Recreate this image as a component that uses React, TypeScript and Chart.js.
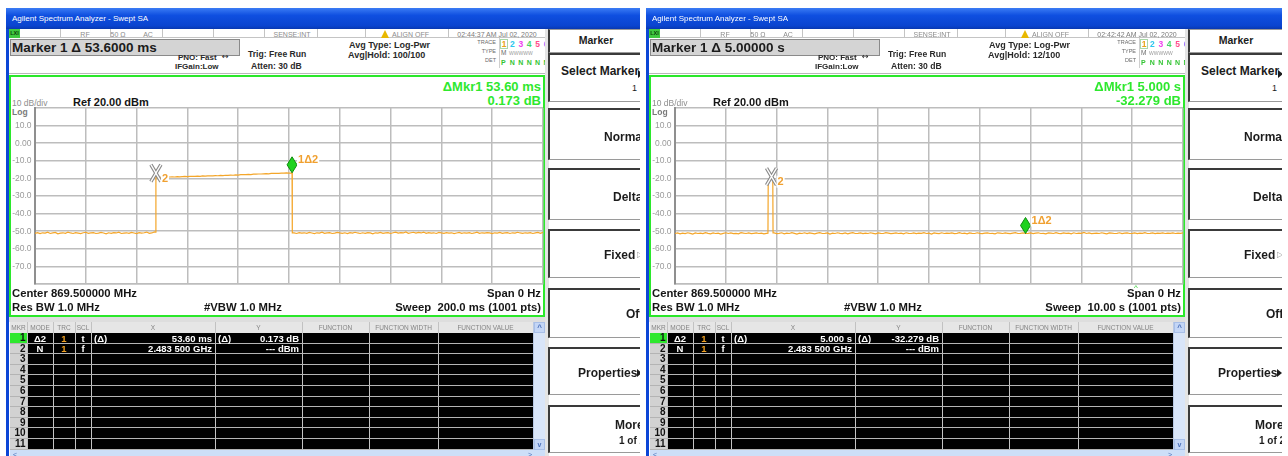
import React, { useEffect, useRef } from "react";
import { Chart, registerables } from "chart.js";

Chart.register(...registerables);

const FONT = '"Liberation Sans", Arial, sans-serif';
const TRACE_COLOR = "#f4a62a";

type Pt = [number, number];

// ---------- Sweep 1: 200 ms span, one burst captured ----------
const leftMkr2: Pt = [47.6, -17.0]; // reference marker (ms, dBm)
const leftMkr1: Pt = [101.2, -16.827]; // delta marker (ms, dBm)

// noise floor, 0 .. 47 ms
const leftNoiseHead = [
  -51.2, -50.8, -51.4, -50.9, -51.1, -50.6, -51.3, -51.0, -50.7, -51.5,
  -51.1, -50.9, -51.2, -50.5, -51.0, -51.3, -50.8, -51.1, -51.4, -50.9,
  -50.6, -51.2, -51.0, -50.8, -51.3, -51.1, -50.7, -51.0, -51.5, -50.9,
  -51.2, -50.8, -51.0, -50.6, -51.3, -51.1, -50.9, -51.2, -50.7, -51.0,
  -51.4, -50.8, -51.1, -50.9, -50.5, -51.2, -51.0, -50.4,
];
const leftRiseEdge: Pt[] = [[47.4, -50.6], leftMkr2];
// burst level, 48 .. 101 ms
const leftBurst = [
  -19.3, -19.4, -19.3, -19.2, -19.3, -19.2, -19.1, -19.2, -19.0, -19.1,
  -19.0, -18.9, -19.0, -18.8, -18.9, -18.8, -18.7, -18.8, -18.6, -18.7,
  -18.6, -18.5, -18.6, -18.4, -18.5, -18.3, -18.4, -18.2, -18.3, -18.1,
  -18.2, -18.0, -18.1, -17.9, -17.9, -17.8, -17.7, -17.8, -17.6, -17.6,
  -17.5, -17.5, -17.4, -17.3, -17.4, -17.2, -17.2, -17.1, -17.1, -17.0,
  -17.0, -16.9, -16.95, -16.9,
];
const leftFallEdge: Pt[] = [leftMkr1, [101.3, -51.0]];
// noise floor, 102 .. 200 ms
const leftNoiseTail = [
  -51.0, -51.3, -50.8, -51.1, -50.9, -51.2, -50.7, -51.0, -51.4, -50.9,
  -51.1, -50.6, -51.2, -51.0, -50.8, -51.3, -51.1, -50.7, -51.0, -51.2,
  -50.9, -51.4, -50.8, -51.1, -50.6, -51.0, -51.3, -50.9, -51.2, -50.8,
  -51.0, -51.5, -50.9, -51.1, -50.7, -51.2, -51.0, -50.8, -51.3, -50.9,
  -50.5, -51.1, -50.8, -51.0, -50.4, -51.2, -50.9, -50.6, -51.1, -50.7,
  -51.0, -50.5, -51.2, -50.8, -51.1, -50.9, -51.3, -50.7, -51.0, -51.2,
  -50.8, -51.1, -50.9, -51.4, -51.0, -50.7, -51.2, -50.9, -51.1, -50.8,
  -51.3, -51.0, -50.6, -51.2, -50.9, -51.1, -50.8, -51.0, -51.4, -50.9,
  -51.1, -50.7, -51.2, -51.0, -50.8, -51.3, -50.9, -51.1, -50.6, -51.0,
  -51.2, -50.9, -51.1, -50.8, -51.3, -51.0, -50.7, -51.2, -50.6,
];

// ---------- Sweep 2: 10 s span, bursts repeat every 5 s ----------
const rightMkr2: Pt = [1.9, -19.021]; // reference marker (s, dBm)
const rightMkr1: Pt = [6.9, -51.3]; // delta marker (s, dBm)

// noise floor, 0 .. 1.80 s
const rightNoiseHead = [
  -51.3, -51.0, -51.5, -51.1, -51.4, -50.9, -51.2, -51.6, -51.0, -51.3,
  -51.1, -51.4, -50.8, -51.2, -51.5, -51.0, -51.3, -51.1, -51.6, -51.2,
  -50.9, -51.3, -51.0, -51.4, -51.2, -51.5, -50.8, -51.1, -51.3, -51.0,
  -51.4, -51.2, -51.0, -51.3, -51.1, -51.5, -51.2,
];
const rightPulse: Pt[] = [
  [1.83, -51.1], [1.835, -21.4], [1.87, -20.3], rightMkr2, [1.925, -20.6], [1.93, -51.0],
];
// noise floor, 1.95 .. 6.85 s
const rightNoiseMid = [
  -51.0, -51.4, -51.2, -50.9, -51.5, -51.1, -51.3, -50.8, -51.2, -51.6,
  -51.1, -51.3, -50.9, -51.4, -51.0, -51.2, -51.5, -51.1, -50.8, -51.3,
  -51.2, -51.0, -51.6, -51.1, -51.3, -50.9, -51.2, -51.4, -51.0, -51.5,
  -51.1, -50.8, -51.3, -51.2, -51.0, -51.4, -51.1, -51.3, -50.9, -51.2,
  -51.5, -51.0, -51.2, -51.3, -50.8, -51.1, -51.4, -51.2, -51.0, -51.3,
  -51.1, -51.5, -50.9, -51.2, -51.3, -51.0, -51.4, -51.1, -51.2, -50.8,
  -51.3, -51.1, -51.6, -51.0, -51.2, -51.4, -50.9, -51.3, -51.1, -51.2,
  -51.0, -51.4, -51.2, -50.8, -51.3, -51.1, -51.5, -51.0, -51.2, -51.3,
  -50.9, -51.2, -51.4, -51.1, -51.0, -51.3, -51.2, -51.5, -50.9, -51.1,
  -51.3, -51.0, -51.2, -51.4, -51.1, -50.8, -51.3, -51.2, -51.0,
];
// noise floor, 6.95 .. 10.00 s
const rightNoiseTail = [
  -51.2, -51.0, -51.4, -51.1, -50.9, -51.3, -51.2, -51.5, -51.0, -51.1,
  -51.3, -50.8, -51.2, -51.4, -51.0, -51.2, -51.1, -51.5, -50.9, -51.3,
  -51.1, -51.2, -50.7, -51.3, -51.0, -51.4, -51.2, -51.1, -51.3, -50.9,
  -51.2, -51.5, -51.0, -51.1, -51.3, -51.2, -50.9, -51.4, -51.1, -51.0,
  -51.3, -51.2, -51.0, -51.4, -51.1, -51.2, -50.8, -51.3, -51.2, -51.0,
  -51.4, -51.1, -51.2, -51.0, -51.3, -51.1, -51.2, -51.0, -51.3, -51.1,
  -51.2, -51.0,
];

// amplitude axis: Ref 20 dBm, 10 dB/div
const refLevel = 20;
const bottomLevel = -80;
const dbPerDiv = 10;

// sweep samples at an even interval between two times
function seg(vals: number[], t0: number, t1: number) {
  return vals.map((v, i) => ({ x: t0 + ((t1 - t0) * i) / (vals.length - 1), y: v }));
}
const pts = (a: Pt[]) => a.map(([x, y]) => ({ x, y }));

const leftTrace = [
  ...seg(leftNoiseHead, 0, 47),
  ...pts(leftRiseEdge),
  ...seg(leftBurst, 48, 101),
  ...pts(leftFallEdge),
  ...seg(leftNoiseTail, 102, 200),
];
const rightTrace = [
  ...seg(rightNoiseHead, 0, 1.8),
  ...pts(rightPulse),
  ...seg(rightNoiseMid, 1.95, 6.85),
  ...pts([rightMkr1]),
  ...seg(rightNoiseTail, 6.95, 10),
];

const screens = [
  {
    left: 0, width: 640, clock: "02:44:37 AM Jul 02, 2020", avgHold: "100/100",
    sweep: 200, unit: "ms", titleDigits: 4, mkrDigits: 2, sweepLabel: "200.0 ms",
    trace: leftTrace, m1: leftMkr1, m2: leftMkr2, caret: false,
  },
  {
    left: 640, width: 642, clock: "02:42:42 AM Jul 02, 2020", avgHold: "12/100",
    sweep: 10, unit: "s", titleDigits: 5, mkrDigits: 3, sweepLabel: "10.00 s",
    trace: rightTrace, m1: rightMkr1, m2: rightMkr2, caret: true,
  },
];

// ---------- marker glyphs drawn on the graticule ----------
function tag(ctx: CanvasRenderingContext2D, s: string, x: number, y: number) {
  ctx.font = `bold 11px ${FONT}`;
  ctx.textBaseline = "middle";
  ctx.textAlign = "left";
  const w = ctx.measureText(s).width;
  ctx.fillStyle = "#ffffff";
  ctx.fillRect(x - 1, y - 6, w + 2, 12);
  ctx.fillStyle = "#f0a030";
  ctx.fillText(s, x, y + 0.5);
}

const markerPlugin = {
  id: "mkr",
  afterDatasetsDraw(chart: any, _args: any, opts: any) {
    const { ctx, scales } = chart;
    const xs = scales.x;
    const ys = scales.y;
    const r = { x: xs.getPixelForValue(opts.ref[0]), y: ys.getPixelForValue(opts.ref[1]) };
    const d = { x: xs.getPixelForValue(opts.delta[0]), y: ys.getPixelForValue(opts.delta[1]) };
    ctx.save();
    // hollow X on the reference marker
    const hw = 5;
    const hh = 8.5;
    const strokes: [number, string][] = [[3.6, "#8a8a8a"], [1.3, "#ffffff"]];
    for (const [w, c] of strokes) {
      ctx.lineWidth = w;
      ctx.strokeStyle = c;
      ctx.beginPath();
      ctx.moveTo(r.x - hw, r.y - hh);
      ctx.lineTo(r.x + hw, r.y + hh);
      ctx.moveTo(r.x + hw, r.y - hh);
      ctx.lineTo(r.x - hw, r.y + hh);
      ctx.stroke();
    }
    tag(ctx, "2", r.x + 6, r.y + 5);
    // diamond sitting on the delta marker
    ctx.beginPath();
    ctx.moveTo(d.x, d.y);
    ctx.lineTo(d.x + 5, d.y - 8);
    ctx.lineTo(d.x, d.y - 16);
    ctx.lineTo(d.x - 5, d.y - 8);
    ctx.closePath();
    ctx.fillStyle = "#1fd21f";
    ctx.fill();
    ctx.lineWidth = 1;
    ctx.strokeStyle = "#0e8a0e";
    ctx.stroke();
    tag(ctx, "1\u03942", d.x + 6, d.y - 13);
    ctx.restore();
  },
};

function Trace({ trace, sweep, m1, m2 }: any) {
  const ref = useRef<HTMLCanvasElement>(null);
  useEffect(() => {
    const grid = { color: "#bdbdbd", lineWidth: 1.5, drawTicks: false };
    const chart = new Chart(ref.current as HTMLCanvasElement, {
      type: "line",
      data: {
        datasets: [
          {
            data: trace,
            borderColor: TRACE_COLOR,
            borderWidth: 1.2,
            pointRadius: 0,
            tension: 0,
            fill: false,
          },
        ],
      },
      options: {
        animation: false,
        responsive: false,
        maintainAspectRatio: false,
        events: [],
        layout: { padding: { top: 31, bottom: 31, left: 0, right: 1 } },
        plugins: {
          legend: { display: false },
          tooltip: { enabled: false },
          mkr: { ref: m2, delta: m1 },
        } as any,
        scales: {
          x: {
            type: "linear",
            min: 0,
            max: sweep,
            ticks: { display: false, stepSize: sweep / 10 },
            grid,
            border: { display: true, color: "#bdbdbd", width: 1.5 },
            afterFit: (s: any) => {
              s.height = 0;
            },
          },
          y: {
            type: "linear",
            min: bottomLevel,
            max: refLevel,
            ticks: {
              stepSize: dbPerDiv,
              padding: 3.5,
              color: "#9a9a9a",
              font: { family: FONT, size: 8.5 },
              callback: (v: any) =>
                v === refLevel || v === bottomLevel ? "" : v === 0 ? "0.00" : Number(v).toFixed(1),
            },
            grid,
            border: { display: true, color: "#8f8f8f", width: 2 },
            afterFit: (s: any) => {
              s.width = 24;
            },
          },
        },
      },
      plugins: [markerPlugin],
    } as any);
    return () => chart.destroy();
  }, []);
  return (
    <canvas
      ref={ref}
      width={533}
      height={238}
      style={{ position: "absolute", left: 11, top: 77, width: 533, height: 238 }}
    />
  );
}

// ---------- small layout helpers ----------
function T({ x, y, s, size = 9, bold = false, color = "#000", align = "left", family = FONT, pre = false }: any) {
  const tx = align === "left" ? "0" : align === "right" ? "-100%" : "-50%";
  return (
    <div
      style={{
        position: "absolute",
        left: x,
        top: y,
        transform: `translate(${tx},-50%)`,
        fontSize: size,
        fontWeight: bold ? 700 : 400,
        color,
        lineHeight: 1,
        whiteSpace: pre ? "pre" : "nowrap",
        fontFamily: family,
      }}
    >
      {s}
    </div>
  );
}

function B({ x, y, w, h, st }: any) {
  return (
    <div
      style={{ position: "absolute", left: x, top: y, width: w, height: h, boxSizing: "border-box", ...st }}
    />
  );
}

const statusCols = [9, 60, 110, 162, 213, 264, 317, 365, 448, 548];
const tableCols = [10, 27, 53, 75, 91, 215, 302, 369, 438, 533];
const tableHeads = ["MKR", "MODE", "TRC", "SCL", "X", "Y", "FUNCTION", "FUNCTION WIDTH", "FUNCTION VALUE"];
const traceDigits = [
  { s: "1", c: "#e8a317" },
  { s: "2", c: "#2cc6ee" },
  { s: "3", c: "#ee44ee" },
  { s: "4", c: "#44d866" },
  { s: "5", c: "#ff4c8c" },
  { s: "6", c: "#9a6cff" },
];
const softBoxes = [
  [53, 102],
  [108, 160],
  [168, 220],
  [229, 278],
  [288, 338],
  [347, 395],
  [405, 453],
];

function Screen({ cfg }: any) {
  const dt = cfg.m1[0] - cfg.m2[0];
  const dAmp = cfg.m1[1] - cfg.m2[1];
  const dtMk = `${dt.toFixed(cfg.mkrDigits)} ${cfg.unit}`;
  const dAmpTxt = `${dAmp.toFixed(3)} dB`;
  const rowH = 10.6;
  const rowTop = (i: number) => 333 + i * rowH;
  return (
    <div
      style={{
        position: "absolute",
        left: cfg.left,
        top: 0,
        width: cfg.width,
        height: 456,
        overflow: "hidden",
        background: "#ffffff",
      }}
    >
      {/* window frame and title bar */}
      <B x={6} y={8} w={700} h={21} st={{ background: "linear-gradient(#3b7cf4, #0f4fe0 35%, #0a44cf 85%, #0838b0)" }} />
      <T x={12} y={18.5} s="Agilent Spectrum Analyzer - Swept SA" size={8} color="#ffffff" />
      <B x={6} y={29} w={3} h={430} st={{ background: "#0c46d6" }} />

      {/* status row */}
      <B x={9} y={29} w={540} h={9} st={{ borderBottom: "1px solid #c4c4c4", background: "#fff" }} />
      {statusCols.map((c) => (
        <B key={c} x={c} y={29} w={1} h={9} st={{ background: "#c4c4c4" }} />
      ))}
      <B x={9} y={29} w={11} h={9} st={{ background: "#3fc83f" }} />
      <T x={14.5} y={33.5} s="LXI" size={5.5} bold color="#0a3a0a" align="center" />
      <T x={85} y={33.5} s="RF" size={7} color="#8c8c8c" align="center" />
      <T x={118} y={33.5} s="50 Ω" size={7} color="#8c8c8c" align="center" />
      <T x={148} y={33.5} s="AC" size={7} color="#8c8c8c" align="center" />
      <T x={292} y={33.5} s="SENSE:INT" size={7} color="#8c8c8c" align="center" />
      <div
        style={{
          position: "absolute",
          left: 381,
          top: 29.5,
          width: 0,
          height: 0,
          borderLeft: "4.5px solid transparent",
          borderRight: "4.5px solid transparent",
          borderBottom: "8px solid #e8b800",
        }}
      />
      <T x={392} y={33.5} s="ALIGN OFF" size={7} color="#8c8c8c" />
      <T x={497} y={33.5} s={cfg.clock} size={7} color="#7a7a7a" align="center" />

      {/* marker readout and settings */}
      <B x={10} y={38.5} w={230} h={17} st={{ background: "#d4d4d4", border: "1px solid #8a8a8a" }} />
      <T x={12} y={47.5} s={`Marker 1 Δ ${dt.toFixed(cfg.titleDigits)} ${cfg.unit}`} size={13.5} bold color="#1c1c1c" />
      <T x={178} y={57.5} s="PNO: Fast" size={8} bold color="#2a2a2a" />
      <T x={222} y={57} s="↔" size={8} color="#2a2a2a" family='"DejaVu Sans", sans-serif' />
      <T x={175} y={67} s="IFGain:Low" size={8} bold color="#2a2a2a" />
      <T x={248} y={54} s="Trig: Free Run" size={8.6} bold color="#2a2a2a" />
      <T x={251} y={66} s="Atten: 30 dB" size={8.6} bold color="#2a2a2a" />
      <T x={349} y={45} s="Avg Type: Log-Pwr" size={9} bold color="#2a2a2a" />
      <T x={348} y={54.5} s={`Avg|Hold: ${cfg.avgHold}`} size={9} bold color="#2a2a2a" />

      {/* trace / type / detector block */}
      <T x={496} y={43} s="TRACE" size={5.5} color="#6a6a6a" align="right" />
      <T x={496} y={52} s="TYPE" size={5.5} color="#6a6a6a" align="right" />
      <T x={496} y={61} s="DET" size={5.5} color="#6a6a6a" align="right" />
      <B x={498.5} y={38} w={1} h={30} st={{ background: "#cfcfcf" }} />
      <B x={500} y={38.5} w={8} h={10} st={{ border: "1px solid #a8d8a8" }} />
      {traceDigits.map((d, i) => (
        <T key={d.s} x={504 + i * 8.4} y={43.5} s={d.s} size={8.5} bold color={d.c} align="center" />
      ))}
      <T x={501} y={52.5} s="M" size={6.5} color="#6a6a6a" />
      <T x={509} y={52.5} s="WWWWW" size={5} color="#9a9a9a" />
      <T x={501} y={61.5} s="P" size={7} bold color="#33c433" />
      {[0, 1, 2, 3, 4].map((i) => (
        <T key={i} x={512.4 + i * 8.4} y={61.5} s="N" size={7} bold color="#33c433" align="center" />
      ))}

      <B x={9} y={73} w={540} h={1} st={{ background: "#b8b8b8" }} />

      {/* graticule window */}
      <B x={9} y={75} w={536} h={242} st={{ border: "2px solid #2be82b", background: "#fff" }} />
      <T x={541} y={85.5} s={`ΔMkr1 ${dtMk}`} size={13} bold color="#2ee82e" align="right" />
      <T x={541} y={99.5} s={dAmpTxt} size={13} bold color="#2ee82e" align="right" />
      <T x={12} y={103} s="10 dB/div" size={8.5} color="#8e8e8e" />
      <T x={73} y={102} s="Ref 20.00 dBm" size={11} bold color="#151515" />
      <T x={12} y={111.5} s="Log" size={8.5} bold color="#7a7a7a" />
      <Trace trace={cfg.trace} sweep={cfg.sweep} m1={cfg.m1} m2={cfg.m2} />
      {cfg.caret ? <T x={496} y={288} s="^" size={8} color="#2ccc2c" align="center" /> : null}
      <T x={12} y={293.5} s="Center 869.500000 MHz" size={11.3} bold color="#151515" />
      <T x={12} y={307.5} s="Res BW 1.0 MHz" size={11.3} bold color="#151515" />
      <T x={204} y={307.5} s="#VBW 1.0 MHz" size={11.3} bold color="#151515" />
      <T x={541} y={293.5} s="Span 0 Hz" size={11.3} bold color="#151515" align="right" />
      <T x={541} y={307.5} s={`Sweep  ${cfg.sweepLabel} (1001 pts)`} size={11.3} bold color="#151515" align="right" pre />

      {/* marker table */}
      <B x={9} y={317} w={540} h={5} st={{ background: "#dedede" }} />
      <B x={10} y={322} w={523} h={11} st={{ background: "#e6e6e6" }} />
      <B x={10} y={333} w={523} h={117} st={{ background: "#000" }} />
      <B x={10} y={333} w={17} h={117} st={{ background: "#d2d2d2" }} />
      <B x={10} y={333} w={17} h={rowH} st={{ background: "#2ee82e" }} />
      {tableCols.slice(1).map((c) => (
        <B key={c} x={c} y={322} w={1} h={128} st={{ background: "#c2c2c2" }} />
      ))}
      {Array.from({ length: 11 }, (_, i) => (
        <B key={i} x={10} y={rowTop(i) + rowH - 1} w={523} h={1} st={{ background: "#b4b4b4" }} />
      ))}
      {tableHeads.map((h, i) => (
        <T
          key={h}
          x={(tableCols[i] + tableCols[i + 1]) / 2}
          y={327.5}
          s={h}
          size={6.5}
          color="#858585"
          align="center"
        />
      ))}
      {Array.from({ length: 11 }, (_, i) => (
        <T key={i} x={25.5} y={rowTop(i) + 5} s={String(i + 1)} size={10} bold color="#111" align="right" />
      ))}
      <T x={40} y={338.5} s="Δ2" size={9.5} bold color="#fff" align="center" />
      <T x={64} y={338.5} s="1" size={9.5} bold color="#f0a020" align="center" />
      <T x={83} y={338.5} s="t" size={9.5} bold color="#fff" align="center" />
      <T x={94} y={338.5} s="(Δ)" size={9.5} bold color="#fff" />
      <T x={212} y={338.5} s={dtMk} size={9.5} bold color="#fff" align="right" />
      <T x={218} y={338.5} s="(Δ)" size={9.5} bold color="#fff" />
      <T x={299} y={338.5} s={dAmpTxt} size={9.5} bold color="#fff" align="right" />
      <T x={40} y={349} s="N" size={9.5} bold color="#fff" align="center" />
      <T x={64} y={349} s="1" size={9.5} bold color="#f0a020" align="center" />
      <T x={83} y={349} s="f" size={9.5} bold color="#fff" align="center" />
      <T x={212} y={349} s="2.483 500 GHz" size={9.5} bold color="#fff" align="right" />
      <T x={299} y={349} s="--- dBm" size={9.5} bold color="#fff" align="right" />

      {/* scroll bars */}
      <B x={533} y={322} w={12} h={128} st={{ background: "#d9e5f8", borderLeft: "1px solid #b8c8e4" }} />
      <B x={534} y={322} w={11} h={11} st={{ background: "#c4d6f6", border: "1px solid #a8bfe8" }} />
      <T x={539.5} y={328} s="^" size={8} bold color="#4a6fb8" align="center" />
      <B x={534} y={439} w={11} h={11} st={{ background: "#c4d6f6", border: "1px solid #a8bfe8" }} />
      <T x={539.5} y={444} s="v" size={7} bold color="#4a6fb8" align="center" />
      <B x={10} y={450} w={535} h={8} st={{ background: "#cddff8" }} />
      <T x={13} y={453.5} s="<" size={7} color="#4a6fb8" />
      <T x={528} y={453.5} s=">" size={7} color="#4a6fb8" />

      {/* softkey panel */}
      <B x={545} y={29} w={4} h={430} st={{ background: "#e4e4e4" }} />
      <B x={548} y={29} w={120} h={24} st={{ borderLeft: "2px solid #3a3a3a", borderTop: "1px solid #9a9a9a", borderBottom: "1px solid #9a9a9a", background: "#fff" }} />
      <T x={596} y={39.5} s="Marker" size={10.5} bold color="#1c1c1c" align="center" />
      {softBoxes.map(([a, b]) => (
        <B
          key={a}
          x={548}
          y={a}
          w={120}
          h={b - a}
          st={{
            borderLeft: "2px solid #3a3a3a",
            borderTop: "2px solid #3a3a3a",
            borderBottom: "1px solid #9a9a9a",
            background: "#fff",
          }}
        />
      ))}
      <T x={561} y={70.5} s="Select Marker" size={12} bold color="#1c1c1c" />
      <div
        style={{
          position: "absolute",
          left: 638,
          top: 70,
          width: 0,
          height: 0,
          borderLeft: "5px solid #1c1c1c",
          borderTop: "4px solid transparent",
          borderBottom: "4px solid transparent",
        }}
      />
      <T x={632} y={88} s="1" size={9} color="#1c1c1c" />
      <T x={604} y={136.5} s="Normal" size={12} bold color="#1c1c1c" />
      <T x={613} y={196.5} s="Delta" size={12} bold color="#1c1c1c" />
      <T x={604} y={255} s="Fixed" size={12} bold color="#1c1c1c" />
      <T x={637} y={255} s="▷" size={8} color="#9a9a9a" family='"DejaVu Sans", sans-serif' />
      <T x={626} y={314} s="Off" size={12} bold color="#1c1c1c" />
      <T x={578} y={372.5} s="Properties" size={12} bold color="#1c1c1c" />
      <div
        style={{
          position: "absolute",
          left: 637,
          top: 368.5,
          width: 0,
          height: 0,
          borderLeft: "5px solid #1c1c1c",
          borderTop: "4px solid transparent",
          borderBottom: "4px solid transparent",
        }}
      />
      <T x={615} y={424.5} s="More" size={12} bold color="#1c1c1c" />
      <T x={619} y={440.5} s="1 of 2" size={10} bold color="#1c1c1c" />
    </div>
  );
}

export default function App() {
  return (
    <div
      style={{
        position: "fixed",
        left: 0,
        top: 0,
        width: 1288,
        height: 456,
        overflow: "hidden",
        background: "#ffffff",
        fontFamily: FONT,
      }}
    >
      {screens.map((cfg, i) => (
        <Screen key={i} cfg={cfg} />
      ))}
    </div>
  );
}
